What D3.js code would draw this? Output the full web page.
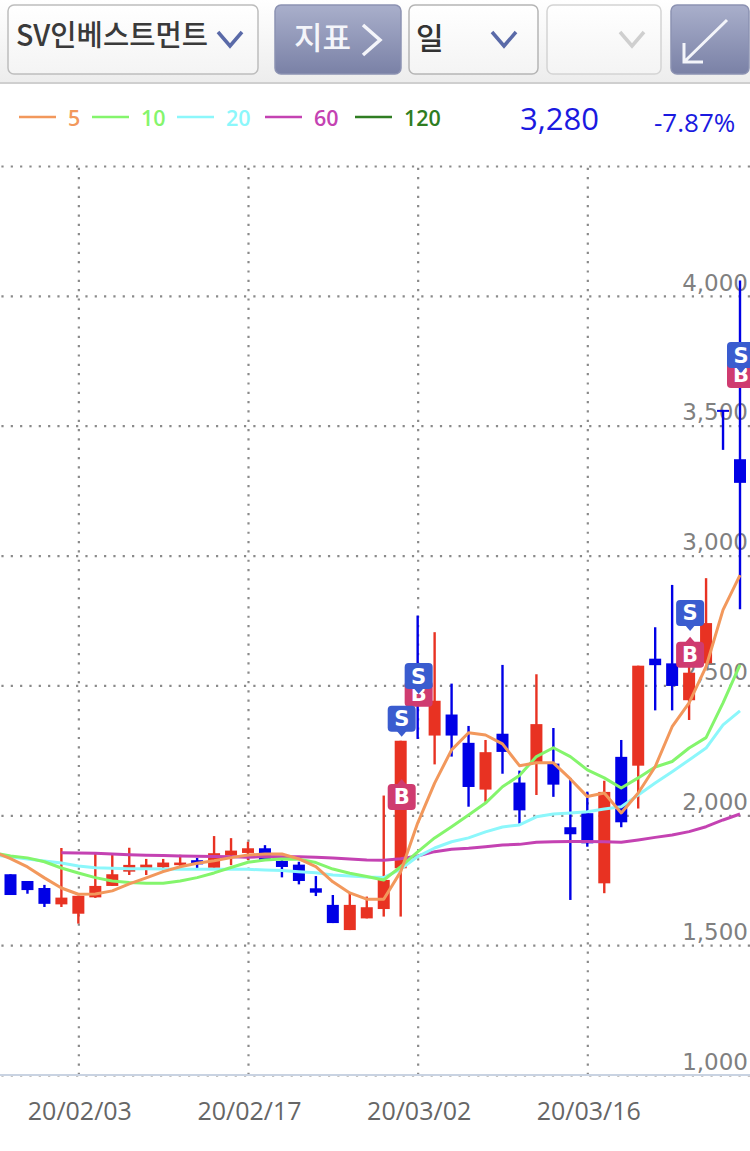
<!DOCTYPE html>
<html>
<head>
<meta charset="utf-8">
<script src="https://cdn.jsdelivr.net/npm/d3@7"></script>
<style>
html,body{margin:0;padding:0;background:#fff;}
svg{display:block;}
text{font-family:"Noto Sans CJK KR","Noto Sans",sans-serif;}
</style>
</head>
<body>
<div id="chart"></div>
<script>
// first date has no candle, it only carries the averages in from the left edge
var dates=["20/01/23","20/01/28","20/01/29","20/01/30","20/01/31","20/02/03","20/02/04","20/02/05","20/02/06","20/02/07","20/02/10","20/02/11","20/02/12","20/02/13","20/02/14","20/02/17","20/02/18","20/02/19","20/02/20","20/02/21","20/02/24","20/02/25","20/02/26","20/02/27","20/02/28","20/03/02","20/03/03","20/03/04","20/03/05","20/03/06","20/03/09","20/03/10","20/03/11","20/03/12","20/03/13","20/03/16","20/03/17","20/03/18","20/03/19","20/03/20","20/03/23","20/03/24","20/03/25","20/03/26","20/03/27"];
var opens =[null,1773,1747,1720,1657,1621,1684,1728,1783,1794,1800,1808,1827,1798,1845,1855,1873,1824,1810,1719,1655,1558,1603,1639,1796,2567,2307,2388,2279,2099,2314,2126,2200,2199,1954,2008,1738,2225,2191,2603,2585,2443,2585,3561,3371];
var highs =[null,1773,1747,1732,1874,1690,1856,1847,1875,1832,1832,1848,1836,1920,1912,1898,1885,1830,1821,1766,1693,1702,1687,2076,2287,2769,2705,2507,2344,2290,2579,2172,2543,2336,2143,2091,2133,2290,2576,2724,2887,2598,2913,3561,4059];
var lows  =[null,1693,1698,1647,1647,1583,1682,1728,1770,1770,1787,1794,1794,1798,1808,1828,1828,1761,1734,1689,1585,1558,1603,1610,1610,2294,2196,2226,2033,2052,2160,1968,2078,2071,1674,1879,1700,1954,2026,2404,2404,2367,2585,3407,2793];
var closes=[null,1693,1712,1659,1683,1690,1728,1773,1809,1810,1818,1818,1811,1854,1864,1873,1828,1801,1747,1702,1585,1655,1646,1751,2287,2425,2441,2307,2109,2243,2244,2019,2351,2118,1927,1892,2090,1973,2576,2578,2498,2549,2740,3560,3280];

var ma5 =[1859,1833,1801,1759,1720,1696,1697,1709,1736,1759,1783,1802,1815,1825,1837,1847,1851,1851,1832,1802,1744,1701,1677,1677,1783,1970,2124,2252,2318,2309,2275,2191,2202,2202,2140,2072,2086,2009,2086,2187,2341,2433,2572,2791,2925];
var ma10=[1855,1843,1836,1821,1797,1778,1760,1747,1741,1738,1738,1747,1760,1778,1799,1819,1828,1832,1831,1818,1793,1777,1764,1751,1802,1859,1913,1956,2001,2047,2110,2153,2226,2260,2226,2175,2144,2105,2144,2186,2207,2259,2299,2433,2579];
var ma20=[1847,1840,1832,1824,1816,1805,1798,1796,1794,1794,1793,1792,1792,1792,1792,1792,1789,1787,1783,1779,1770,1766,1762,1760,1793,1841,1874,1898,1913,1936,1955,1963,1994,2005,2009,2014,2024,2033,2078,2124,2168,2213,2259,2348,2402];
var ma60=[null,null,null,null,1856,1855,1854,1851,1848,1846,1845,1843,1842,1841,1840,1838,1841,1840,1840,1838,1836,1832,1828,1827,1833,1843,1860,1869,1873,1879,1886,1888,1896,1898,1899,1899,1898,1896,1905,1915,1924,1937,1956,1982,2005];

var maNames=["5","10","20","60","120"];
var maColors=["#f2985c","#84f56c","#8cf7fb","#c442b2","#2f7d22"];
var maSeries=[ma5,ma10,ma20,ma60];

var priceTicks=[1000,1500,2000,2500,3000,3500,4000,4500];
var dateTicks=["20/02/03","20/02/17","20/03/02","20/03/16"];

// buy and sell marks, B drawn first so S sits on top
var signalDates=["20/03/02","20/03/24","20/03/27","20/02/28","20/02/28","20/03/02","20/03/24","20/03/27"];
var signalKinds=["B","B","B","B","S","S","S","S"];
var signalPrices=[2537,2687,3765,2140,2302,2467,2710,3703];

var lastPrice="3,280";
var lastChange="-7.87%";

var w=750,h=1151;
var svg=d3.select("#chart").append("svg").attr("width",w).attr("height",h);
var defs=svg.append("defs");

function gradient(id,c0,c1){
  var g=defs.append("linearGradient").attr("id",id).attr("x1",0).attr("x2",0).attr("y1",0).attr("y2",1);
  g.append("stop").attr("offset","0%").attr("stop-color",c0);
  g.append("stop").attr("offset","100%").attr("stop-color",c1);
}
gradient("headBg","#ffffff","#ededed");
gradient("btnBg","#a9afcb","#7a81a6");
gradient("ddBg","#ffffff","#f4f4f4");

var y=d3.scaleLinear().domain([1000,4500]).range([1075,166]);
var x=d3.scalePoint().domain(dates).range([-6.47,740]);

// grid and price labels
var yAxis=svg.append("g").attr("transform","translate("+w+",0)")
  .call(d3.axisLeft(y).tickValues(priceTicks).tickSize(w)
    .tickFormat(function(d){return d==4500?"":d3.format(",")(d);}));
yAxis.select(".domain").remove();
yAxis.selectAll("line").attr("stroke","#8a8a8a").attr("stroke-width",2.2).attr("stroke-dasharray","2.2 7.13");
yAxis.selectAll("text")
  .attr("x",-2).attr("y",-14).attr("dy",".36em")
  .style("font-family","'DejaVu Sans'").style("font-size","23px").attr("fill","#808080");

var xAxis=svg.append("g").attr("transform","translate(0,1075)")
  .call(d3.axisBottom(x).tickValues(dateTicks).tickSize(-909).tickFormat(String));
xAxis.select(".domain").remove();
xAxis.selectAll("line").attr("stroke","#8a8a8a").attr("stroke-width",2.2).attr("stroke-dasharray","2.2 7.13");
xAxis.selectAll("text")
  .attr("y",36).attr("dy",".36em").attr("dx",1)
  .style("font-family","'Open Sans'").style("font-size","25px").attr("fill","#666");

svg.append("line").attr("x1",0).attr("x2",w).attr("y1",1075).attr("y2",1075)
  .attr("stroke","#c9d3e2").attr("stroke-width",2);

// candles
var bodyW=12;
var candles=dates.map(function(d,i){
  return {date:d,o:opens[i],h:highs[i],l:lows[i],c:closes[i]};
}).filter(function(d){return d.o!==null;});
function candleColor(d){return d.c>=d.o?"#e83222":"#0000e6";}

svg.selectAll(".wick").data(candles).enter().append("line")
  .attr("class","wick")
  .attr("x1",function(d){return x(d.date);})
  .attr("x2",function(d){return x(d.date);})
  .attr("y1",function(d){return y(d.h);})
  .attr("y2",function(d){return y(d.l);})
  .attr("stroke",candleColor).attr("stroke-width",2.4);

svg.selectAll(".body").data(candles).enter().append("rect")
  .attr("class","body")
  .attr("x",function(d){return x(d.date)-bodyW/2;})
  .attr("width",bodyW)
  .attr("y",function(d){return y(Math.max(d.o,d.c));})
  .attr("height",function(d){return Math.max(2,Math.abs(y(d.o)-y(d.c)));})
  .attr("fill",candleColor);

// moving averages, 60 under the others like the original
var line=d3.line()
  .defined(function(d){return d!==null;})
  .x(function(d,i){return x(dates[i]);})
  .y(function(d){return y(d);});
[3,2,1,0].forEach(function(i){
  svg.append("path").datum(maSeries[i])
    .attr("d",line).attr("fill","none")
    .attr("stroke",maColors[i]).attr("stroke-width",3).attr("stroke-linejoin","round");
});

// signals
var signals=signalDates.map(function(d,i){return {date:d,kind:signalKinds[i],price:signalPrices[i]};});
var sig=svg.selectAll(".signal").data(signals).enter().append("g")
  .attr("class","signal")
  .attr("transform",function(d){return "translate("+(x(d.date)+1)+","+y(d.price)+")";});
function sigColor(d){return d.kind=="S"?"#3a5ccf":"#cf3b70";}
sig.append("path")
  .attr("d",function(d){
    return d.kind=="S"?"M-6,-7L0,0L6,-7Z":"M-6,7L0,0L6,7Z";
  }).attr("fill",sigColor);
sig.append("rect")
  .attr("x",-14).attr("width",28).attr("height",26).attr("rx",4)
  .attr("y",function(d){return d.kind=="S"?-31:5;})
  .attr("fill",sigColor);
sig.append("text")
  .attr("text-anchor","middle")
  .attr("y",function(d){return d.kind=="S"?-18:18;})
  .attr("dy",".36em")
  .style("font-family","'DejaVu Sans'").style("font-weight","bold").style("font-size","21px")
  .attr("fill","#fff")
  .text(function(d){return d.kind;});

// header
svg.append("rect").attr("x",0).attr("y",0).attr("width",w).attr("height",82).attr("fill","url(#headBg)");
svg.append("line").attr("x1",0).attr("x2",w).attr("y1",83).attr("y2",83).attr("stroke","#cfcfcf").attr("stroke-width",2);

var boxes=[
  {x:8,w:250,fill:"url(#ddBg)",stroke:"#bdbdbd"},
  {x:275,w:126,fill:"url(#btnBg)",stroke:"#8c92b2"},
  {x:409,w:129,fill:"url(#ddBg)",stroke:"#b5b5b5"},
  {x:547,w:114,fill:"url(#ddBg)",stroke:"#d4d4d4"},
  {x:671,w:78,fill:"url(#btnBg)",stroke:"#8c92b2"}
];
svg.selectAll(".box").data(boxes).enter().append("rect")
  .attr("class","box")
  .attr("x",function(d){return d.x;}).attr("y",5)
  .attr("width",function(d){return d.w;}).attr("height",69).attr("rx",6)
  .attr("fill",function(d){return d.fill;})
  .attr("stroke",function(d){return d.stroke;}).attr("stroke-width",1.5);

function chevron(cx,color){
  svg.append("path").attr("d","M"+(cx-12)+",32L"+cx+",46L"+(cx+12)+",32")
    .attr("fill","none").attr("stroke",color).attr("stroke-width",3.5);
}
chevron(230,"#5a6aa8");
chevron(504,"#5a6aa8");
chevron(632,"#cfcfcf");

function headText(tx,ty,str,size,color,weight){
  return svg.append("text").attr("x",tx).attr("y",ty).attr("dy",".36em")
    .style("font-size",size+"px").style("font-weight",weight).attr("fill",color).text(str);
}
headText(16,36,"SV인베스트먼트",29,"#3a3a3a",500).attr("textLength",192).attr("lengthAdjust","spacingAndGlyphs");
headText(294,38,"지표",31,"#f4f5fa",500);
headText(416,38,"일",30,"#333",500);

svg.append("path").attr("d","M363,25L380,40L363,55")
  .attr("fill","none").attr("stroke","#f4f5fa").attr("stroke-width",3.5);
svg.append("path").attr("d","M727,20L684,62M684,43L684,62L703,62")
  .attr("fill","none").attr("stroke","#f4f5fa").attr("stroke-width",3);

// legend
var legX=[19,92,177,265,355];
var legTextX=[68,141,226,314,404];
maNames.forEach(function(n,i){
  svg.append("line").attr("x1",legX[i]).attr("x2",legX[i]+37).attr("y1",117).attr("y2",117)
    .attr("stroke",maColors[i]).attr("stroke-width",2.5);
  svg.append("text").attr("x",legTextX[i]).attr("y",118).attr("dy",".36em")
    .style("font-family","'Open Sans'").style("font-size","21.5px").style("font-weight","600")
    .attr("fill",maColors[i]).text(n);
});

svg.append("text").attr("x",520).attr("y",119).attr("dy",".36em")
  .style("font-family","'Open Sans'").style("font-size","31px").attr("fill","#1a1ae0").text(lastPrice);
svg.append("text").attr("x",654).attr("y",123).attr("dy",".36em")
  .style("font-family","'Open Sans'").style("font-size","26px").attr("fill","#1a1ae0").text(lastChange);
</script>
</body>
</html>
